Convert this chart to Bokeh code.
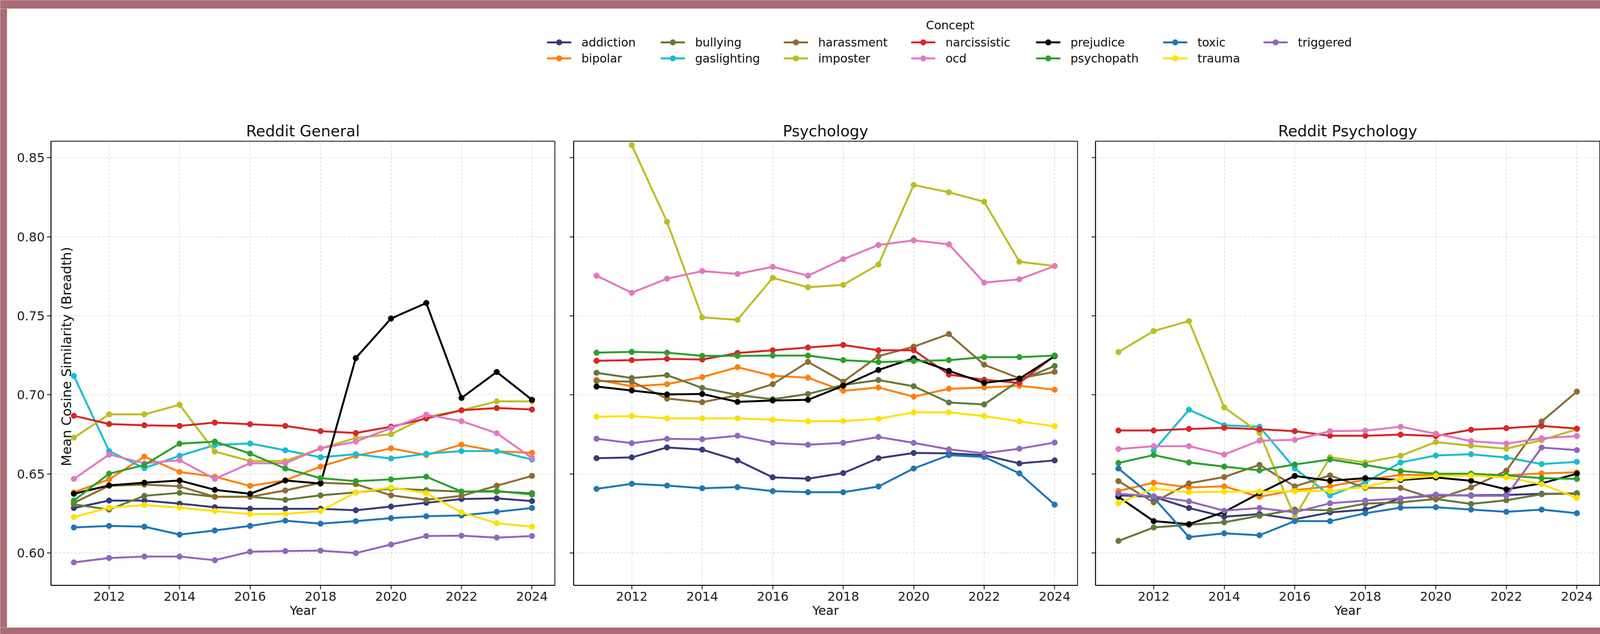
import math
from bokeh.plotting import figure
from bokeh.models import Range1d, FixedTicker, PrintfTickFormatter, Label, ColumnDataSource
from bokeh.layouts import row, column
from bokeh.embed import file_html
from bokeh.resources import INLINE
from bokeh.core.properties import value

nan = float("nan")

# ---------------- data ----------------
years = [2011, 2012, 2013, 2014, 2015, 2016, 2017, 2018, 2019, 2020, 2021, 2022, 2023, 2024]
concepts = ["addiction", "bipolar", "bullying", "gaslighting", "harassment", "imposter",
            "narcissistic", "ocd", "prejudice", "psychopath", "toxic", "trauma", "triggered"]
panel_titles = ["Reddit General", "Psychology", "Reddit Psychology"]
x_ticks = [2012, 2014, 2016, 2018, 2020, 2022, 2024]
y_ticks = [0.60, 0.65, 0.70, 0.75, 0.80, 0.85]

# Reddit General
rg_addiction = [0.6285, 0.6332, 0.6332, 0.6313, 0.629, 0.628, 0.628, 0.628, 0.6271, 0.6294, 0.6318, 0.6342, 0.6346, 0.6329]
rg_bipolar = [0.6384, 0.6466, 0.661, 0.6513, 0.6483, 0.6425, 0.646, 0.6547, 0.6615, 0.6662, 0.662, 0.6686, 0.6643, 0.6634]
rg_bullying = [0.6308, 0.6275, 0.6362, 0.6381, 0.6356, 0.6356, 0.6337, 0.6365, 0.6384, 0.6408, 0.6398, 0.6389, 0.6389, 0.6379]
rg_gaslighting = [0.712, 0.6645, 0.6537, 0.6615, 0.6683, 0.6693, 0.665, 0.6606, 0.6625, 0.6598, 0.6628, 0.6645, 0.6645, 0.6592]
rg_harassment = [0.6318, 0.6426, 0.6433, 0.6422, 0.6356, 0.6356, 0.6396, 0.6445, 0.6436, 0.6365, 0.6337, 0.6362, 0.6426, 0.6488]
rg_imposter = [0.673, 0.6877, 0.6877, 0.6938, 0.6642, 0.6582, 0.6582, 0.6662, 0.6728, 0.6752, 0.686, 0.6903, 0.6959, 0.6959]
rg_narcissistic = [0.6868, 0.6816, 0.6808, 0.6804, 0.6825, 0.6815, 0.6804, 0.6771, 0.6759, 0.6799, 0.6851, 0.6903, 0.6917, 0.6908]
rg_ocd = [0.6469, 0.6623, 0.6568, 0.6587, 0.6469, 0.6568, 0.6568, 0.6662, 0.6705, 0.679, 0.6875, 0.6834, 0.6758, 0.6601]
rg_prejudice = [0.6375, 0.6428, 0.6445, 0.6459, 0.64, 0.6375, 0.6459, 0.644, 0.7233, 0.7483, 0.7581, 0.6981, 0.7145, 0.6969]
rg_psychopath = [0.6332, 0.6502, 0.6557, 0.6692, 0.6705, 0.6629, 0.6535, 0.6474, 0.6455, 0.6466, 0.6483, 0.6389, 0.6393, 0.637]
rg_toxic = [0.6162, 0.6172, 0.6167, 0.6117, 0.6143, 0.6172, 0.6205, 0.6186, 0.6202, 0.6221, 0.6233, 0.6238, 0.6261, 0.6285]
rg_trauma = [0.6228, 0.6287, 0.6304, 0.6287, 0.6266, 0.6247, 0.6247, 0.6266, 0.6384, 0.6415, 0.6379, 0.6257, 0.6189, 0.6167]
rg_triggered = [0.5941, 0.5969, 0.5978, 0.5978, 0.5955, 0.6009, 0.6013, 0.6016, 0.6, 0.6054, 0.6108, 0.611, 0.6098, 0.6108]

# Psychology
ps_addiction = [0.66, 0.6605, 0.6668, 0.6654, 0.6586, 0.6479, 0.647, 0.6506, 0.66, 0.6633, 0.6631, 0.6619, 0.6567, 0.6586]
ps_bipolar = [0.7096, 0.7055, 0.7068, 0.7113, 0.7175, 0.7121, 0.7109, 0.7026, 0.7047, 0.6989, 0.7039, 0.7047, 0.7058, 0.7033]
ps_bullying = [0.714, 0.7107, 0.7125, 0.7044, 0.70, 0.6973, 0.7006, 0.7063, 0.7094, 0.7055, 0.6952, 0.694, 0.7092, 0.7183]
ps_gaslighting = [nan] * 14
ps_harassment = [0.7088, 0.7084, 0.6977, 0.6954, 0.6998, 0.7068, 0.7209, 0.7084, 0.7245, 0.7305, 0.7385, 0.7191, 0.7105, 0.7146]
ps_imposter = [nan, 0.8579, 0.8094, 0.749, 0.7475, 0.774, 0.7681, 0.7696, 0.7825, 0.8327, 0.8281, 0.8221, 0.7842, 0.7815]
ps_narcissistic = [0.7216, 0.722, 0.7228, 0.7224, 0.7265, 0.7282, 0.73, 0.7316, 0.7282, 0.7283, 0.7129, 0.7096, 0.7076, 0.7249]
ps_ocd = [0.7754, 0.7646, 0.7735, 0.7783, 0.7765, 0.781, 0.7754, 0.7858, 0.7948, 0.7977, 0.7952, 0.771, 0.7731, 0.7815]
ps_prejudice = [0.7053, 0.7028, 0.7003, 0.7006, 0.6956, 0.6965, 0.6969, 0.7058, 0.7158, 0.7232, 0.7152, 0.7076, 0.7102, 0.7245]
ps_psychopath = [0.7267, 0.7272, 0.7267, 0.7247, 0.7247, 0.7249, 0.7249, 0.722, 0.7208, 0.7214, 0.722, 0.7239, 0.7239, 0.7249]
ps_toxic = [0.6406, 0.6438, 0.6427, 0.641, 0.6417, 0.6392, 0.6385, 0.6385, 0.6421, 0.6535, 0.6619, 0.6608, 0.6504, 0.6306]
ps_trauma = [0.6862, 0.6866, 0.6852, 0.6852, 0.6852, 0.6843, 0.6833, 0.6835, 0.6849, 0.689, 0.689, 0.6866, 0.6833, 0.6802]
ps_triggered = [0.6723, 0.6695, 0.6722, 0.672, 0.6742, 0.6697, 0.6685, 0.6697, 0.6734, 0.6697, 0.6656, 0.6631, 0.666, 0.6699]

# Reddit Psychology
rp_addiction = [0.6365, 0.6356, 0.6285, 0.623, 0.6247, 0.6214, 0.6257, 0.6275, 0.6346, 0.6365, 0.6365, 0.6368, 0.6375, 0.6375]
rp_bipolar = [0.6393, 0.6445, 0.6415, 0.6422, 0.6356, 0.6398, 0.6422, 0.6464, 0.6494, 0.6494, 0.6494, 0.6492, 0.6504, 0.6511]
rp_bullying = [0.6077, 0.6162, 0.6179, 0.6195, 0.6236, 0.6275, 0.6271, 0.6313, 0.6321, 0.6342, 0.6311, 0.6334, 0.6372, 0.6379]
rp_gaslighting = [nan, 0.6648, 0.6906, 0.6808, 0.6799, 0.6535, 0.6365, 0.6447, 0.6573, 0.6617, 0.6625, 0.6604, 0.6563, 0.6577]
rp_harassment = [0.6455, 0.6321, 0.6441, 0.6481, 0.6558, 0.6422, 0.6491, 0.6412, 0.6412, 0.634, 0.6415, 0.6521, 0.6832, 0.7021]
rp_imposter = [0.7271, 0.7404, 0.7467, 0.6921, 0.6761, 0.6228, 0.6606, 0.6573, 0.6615, 0.6702, 0.6679, 0.666, 0.6714, 0.6783]
rp_narcissistic = [0.6775, 0.6775, 0.6785, 0.6792, 0.6783, 0.6771, 0.6742, 0.6742, 0.6749, 0.674, 0.678, 0.679, 0.6804, 0.6787]
rp_ocd = [0.6658, 0.6676, 0.6676, 0.6623, 0.6711, 0.6716, 0.6771, 0.6774, 0.6799, 0.6755, 0.6708, 0.6692, 0.6726, 0.674]
rp_prejudice = [0.6356, 0.6202, 0.6183, 0.626, 0.6379, 0.6488, 0.6457, 0.6474, 0.6462, 0.6478, 0.6457, 0.6403, 0.6441, 0.6502]
rp_psychopath = [0.657, 0.662, 0.6573, 0.6547, 0.6523, 0.656, 0.6592, 0.6557, 0.6519, 0.6502, 0.6502, 0.6491, 0.6474, 0.6469]
rp_toxic = [0.6535, 0.635, 0.6101, 0.6125, 0.6113, 0.6202, 0.6202, 0.6252, 0.6287, 0.629, 0.6275, 0.6261, 0.6275, 0.6252]
rp_trauma = [0.6315, 0.6408, 0.6384, 0.6389, 0.6389, 0.6391, 0.6393, 0.6419, 0.6469, 0.6488, 0.6491, 0.6478, 0.6436, 0.6349]
rp_triggered = [0.6375, 0.636, 0.6327, 0.6268, 0.6285, 0.6258, 0.6315, 0.6332, 0.6346, 0.637, 0.6362, 0.6362, 0.6667, 0.6651]

colors = {
    "addiction": "#393b79", "bipolar": "#ff7f0e", "bullying": "#637939",
    "gaslighting": "#17becf", "harassment": "#8c6d31", "imposter": "#bcbd22",
    "narcissistic": "#d62728", "ocd": "#e377c2", "prejudice": "#000000",
    "psychopath": "#2ca02c", "toxic": "#1f77b4", "trauma": "#ffe000",
    "triggered": "#9467bd",
}

panels_data = [
    {"addiction": rg_addiction, "bipolar": rg_bipolar, "bullying": rg_bullying, "gaslighting": rg_gaslighting,
     "harassment": rg_harassment, "imposter": rg_imposter, "narcissistic": rg_narcissistic, "ocd": rg_ocd,
     "prejudice": rg_prejudice, "psychopath": rg_psychopath, "toxic": rg_toxic, "trauma": rg_trauma,
     "triggered": rg_triggered},
    {"addiction": ps_addiction, "bipolar": ps_bipolar, "bullying": ps_bullying, "gaslighting": ps_gaslighting,
     "harassment": ps_harassment, "imposter": ps_imposter, "narcissistic": ps_narcissistic, "ocd": ps_ocd,
     "prejudice": ps_prejudice, "psychopath": ps_psychopath, "toxic": ps_toxic, "trauma": ps_trauma,
     "triggered": ps_triggered},
    {"addiction": rp_addiction, "bipolar": rp_bipolar, "bullying": rp_bullying, "gaslighting": rp_gaslighting,
     "harassment": rp_harassment, "imposter": rp_imposter, "narcissistic": rp_narcissistic, "ocd": rp_ocd,
     "prejudice": rp_prejudice, "psychopath": rp_psychopath, "toxic": rp_toxic, "trauma": rp_trauma,
     "triggered": rp_triggered},
]

# ---------------- style ----------------
PINK = "#a96c76"
FONT = "DejaVu Sans"
LW = 5
MS = 14.5

def bar(w, h):
    f = figure(width=w, height=h, toolbar_location=None, output_backend="svg",
               x_axis_location=None, y_axis_location=None, min_border=0,
               x_range=(0, 1), y_range=(0, 1))
    f.grid.visible = False
    f.outline_line_color = None
    f.background_fill_color = PINK
    f.border_fill_color = PINK
    return f

y_range = Range1d(0.5796, 0.8604)

PANEL_H = 1316
panel_specs = [  # width, min_border_left, min_border_right
    (1425, 112, 23),
    (1337, 25, 22),
    (1317, 24, 2),
]

figs = []
for i, (title, data) in enumerate(zip(panel_titles, panels_data)):
    w, bl, br = panel_specs[i]
    p = figure(width=w, height=PANEL_H, toolbar_location=None, output_backend="svg",
               x_range=Range1d(2010.35, 2024.65), y_range=y_range,
               min_border_left=bl, min_border_right=br, min_border_top=71, min_border_bottom=108,
               title=title)
    p.background_fill_color = "white"
    p.border_fill_color = "white"
    p.outline_line_color = "black"
    p.outline_line_width = 2
    p.title.align = "center"
    p.title.text_font = FONT
    p.title.text_font_size = "39px"
    p.title.text_font_style = "normal"
    p.title.text_color = "#111111"
    p.title.standoff = 8

    src = ColumnDataSource(dict(year=years, **data))
    for c in concepts:
        p.line("year", c, source=src, line_color=colors[c], line_width=LW)
        p.scatter("year", c, source=src, marker="circle", size=MS,
                  fill_color=colors[c], line_color=colors[c])

    p.xaxis.ticker = FixedTicker(ticks=x_ticks)
    p.yaxis.ticker = FixedTicker(ticks=y_ticks)
    p.yaxis.formatter = PrintfTickFormatter(format="%.2f")
    for ax in (p.xaxis, p.yaxis):
        ax.major_tick_out = 10
        ax.major_tick_in = 0
        ax.minor_tick_out = 0
        ax.minor_tick_in = 0
        ax.major_tick_line_width = 2
        ax.axis_line_width = 2
        ax.major_label_text_font = FONT
        ax.major_label_text_font_size = "32px"
        ax.major_label_text_color = "#222222"
        ax.major_label_standoff = 6
    p.xaxis.axis_label = "Year"
    p.xaxis.axis_label_text_font = FONT
    p.xaxis.axis_label_text_font_size = "32px"
    p.xaxis.axis_label_text_font_style = "normal"
    p.xaxis.axis_label_text_color = "#111111"
    p.xaxis.axis_label_standoff = 3
    if i > 0:
        p.yaxis.major_label_overrides = {t: "" for t in y_ticks}
        p.yaxis.major_label_text_font_size = "1px"
    p.grid.grid_line_color = "#b0b0b0"
    p.grid.grid_line_alpha = 0.55
    p.grid.grid_line_dash = "6 4"
    p.grid.grid_line_width = 1.5

    if i == 0:
        p.add_layout(Label(x=2010.793, y=0.655, text="Mean Cosine Similarity (Breadth)",
                           angle=math.pi / 2, text_align="left", text_baseline="middle",
                           text_font=FONT, text_font_size="34px", text_color="#111111"))
    figs.append(p)

INNER_W = sum(s[0] for s in panel_specs)   # 4079

# ---------------- legend ----------------
LEG_H = 268
leg = figure(width=INNER_W, height=LEG_H, toolbar_location=None, output_backend="svg",
             x_axis_location=None, y_axis_location=None, min_border=0,
             x_range=Range1d(0, INNER_W), y_range=Range1d(LEG_H, 0))
leg.grid.visible = False
leg.outline_line_color = None
leg.background_fill_color = "white"
leg.border_fill_color = "white"

col_x = [1413, 1704, 2019, 2345, 2665, 2990, 3247]
row_y = [86, 127]
hx, hy, hc, tx, tt = [], [], [], [], []
for k, c in enumerate(concepts):
    cx = col_x[k // 2]
    cy = row_y[k % 2]
    hx.append(cx); hy.append(cy); hc.append(colors[c])
    tx.append(cx + 57); tt.append(c)
lsrc = ColumnDataSource(dict(x=hx, y=hy, x0=[v - 31 for v in hx], x1=[v + 31 for v in hx],
                             color=hc, tx=tx, text=tt))
leg.segment("x0", "y", "x1", "y", source=lsrc, line_color="color", line_width=LW)
leg.scatter("x", "y", source=lsrc, marker="circle", size=MS, fill_color="color", line_color="color")
leg.text("tx", "y", text="text", source=lsrc, text_font=value(FONT), text_font_size="30px",
         text_baseline="middle", text_align="left", text_color="#111111")
leg.text(x=[2414], y=[42], text=["Concept"], text_font=value(FONT), text_font_size="30px",
         text_baseline="middle", text_align="center", text_color="#111111")

# ---------------- layout ----------------
TOP, LEFT = 22, 18
RIGHT = 4104 - LEFT - INNER_W          # 7
MID_H = LEG_H + PANEL_H                # 1584
BOTTOM = 1623 - TOP - MID_H            # 17
inner = column(leg, row(*figs))
layout = column(bar(4104, TOP), row(bar(LEFT, MID_H), inner, bar(RIGHT, MID_H)), bar(4104, BOTTOM))

html = file_html(layout, INLINE)
css = "<style>html, body { overflow: hidden; }</style>"
if "</head>" in html:
    html = html.replace("</head>", css + "</head>", 1)
open("out.html", "w").write(html)
